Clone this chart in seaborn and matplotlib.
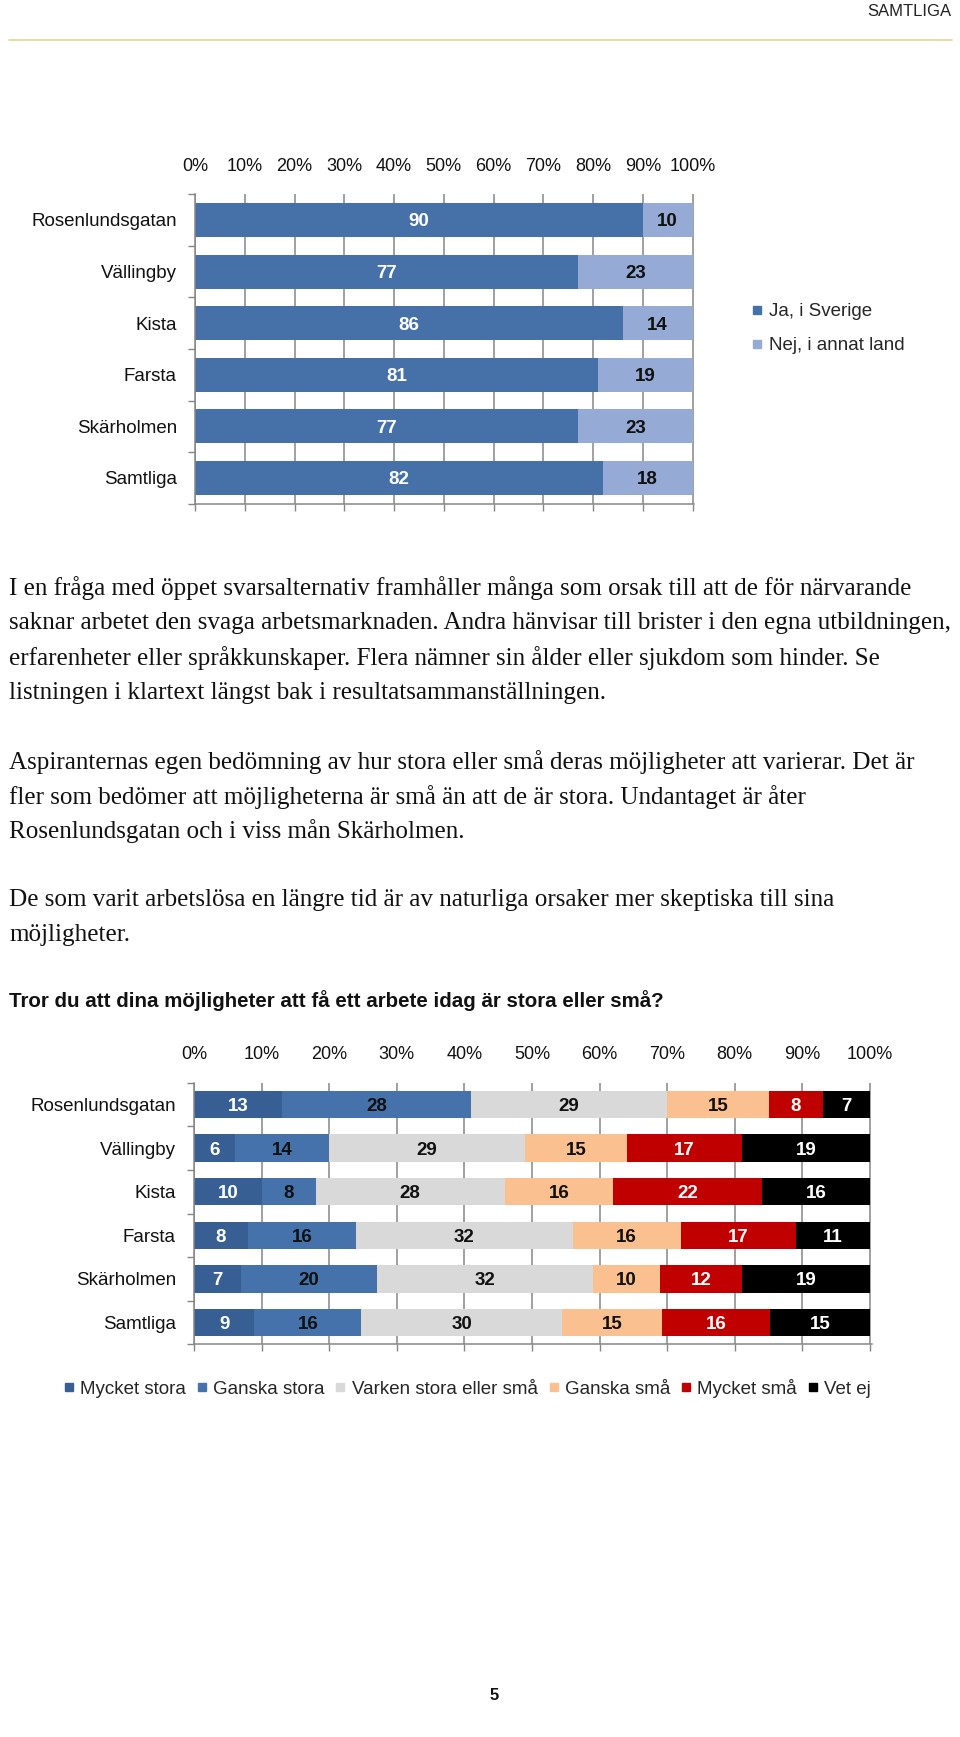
import matplotlib
matplotlib.use("Agg")
import matplotlib.pyplot as plt
import seaborn as sns
import numpy as np
import pandas as pd
from matplotlib.lines import Line2D

# ---------------- data ----------------
cats1 = ["Rosenlundsgatan", "Vällingby", "Kista", "Farsta", "Skärholmen", "Samtliga"]
ja_i_sverige = [90, 77, 86, 81, 77, 82]
nej_annat_land = [10, 23, 14, 19, 23, 18]
legend1 = ["Ja, i Sverige", "Nej, i annat land"]

cats2 = ["Rosenlundsgatan", "Vällingby", "Kista", "Farsta", "Skärholmen", "Samtliga"]
mycket_stora = [13, 6, 10, 8, 7, 9]
ganska_stora = [28, 14, 8, 16, 20, 16]
varken = [29, 29, 28, 32, 32, 30]
ganska_sma = [15, 15, 16, 16, 10, 15]
mycket_sma = [8, 17, 22, 17, 12, 16]
vet_ej = [7, 19, 16, 11, 19, 15]
legend2 = ["Mycket stora", "Ganska stora", "Varken stora eller små",
           "Ganska små", "Mycket små", "Vet ej"]

xticks = list(range(0, 101, 10))
xticklabels = [f"{t}%" for t in xticks]

para_lines = [
    "I en fråga med öppet svarsalternativ framhåller många som orsak till att de för närvarande",
    "saknar arbetet den svaga arbetsmarknaden. Andra hänvisar till brister i den egna utbildningen,",
    "erfarenheter eller språkkunskaper. Flera nämner sin ålder eller sjukdom som hinder. Se",
    "listningen i klartext längst bak i resultatsammanställningen.",
    "Aspiranternas egen bedömning av hur stora eller små deras möjligheter att varierar. Det är",
    "fler som bedömer att möjligheterna är små än att de är stora. Undantaget är åter",
    "Rosenlundsgatan och i viss mån Skärholmen.",
    "De som varit arbetslösa en längre tid är av naturliga orsaker mer skeptiska till sina",
    "möjligheter.",
]
heading = "Tror du att dina möjligheter att få ett arbete idag är stora eller små?"

# ---------------- style ----------------
sns.set_style("white")
plt.rcParams["font.family"] = ["Liberation Sans", "DejaVu Sans"]

W, H = 960, 1737
fig = plt.figure(figsize=(W / 100, H / 100), dpi=100)


def fx(px):
    return px / W


def fy(py):
    return 1 - py / H


GRID = "#868686"


def stacked(ax, cats, series, colors, label_colors, width):
    data = np.array(series, dtype=float)
    shares = data / data.sum(axis=0) * 100
    cum = np.cumsum(shares, axis=0)
    for i in range(len(series) - 1, -1, -1):
        df = pd.DataFrame({"cat": cats, "v": cum[i]})
        sns.barplot(data=df, x="v", y="cat", color=colors[i], width=width,
                    errorbar=None, orient="h", ax=ax, saturation=1, linewidth=0)
    for i, vals in enumerate(series):
        left = cum[i] - shares[i]
        for j, v in enumerate(vals):
            ax.text(left[j] + shares[i][j] / 2, j, str(v), ha="center",
                    va="center_baseline", color=label_colors[i], fontsize=13.5,
                    fontweight="bold")
    n = len(cats)
    ax.set_xlim(0, 100.3)
    ax.set_ylim(n - 0.5, -0.5)
    ax.set_xlabel("")
    ax.set_ylabel("")
    ax.set_xticks(xticks)
    ax.set_xticklabels(xticklabels)
    ax.tick_params(axis="x", which="major", bottom=True, top=False, labelbottom=False,
                   labeltop=True, length=5, width=1, color=GRID, pad=9,
                   labelsize=13, labelcolor="#111111", direction="out")
    ax.set_yticks(range(n))
    ax.set_yticklabels(cats)
    ax.set_yticks(np.arange(-0.5, n, 1.0), minor=True)
    ax.tick_params(axis="y", which="major", length=0, pad=13, labelsize=13.5,
                   labelcolor="#111111")
    ax.tick_params(axis="y", which="minor", left=True, length=5, width=1, color=GRID,
                   direction="out")
    ax.grid(axis="x", color=GRID, lw=1.1)
    ax.grid(axis="y", visible=False)
    ax.set_axisbelow(True)
    for s in ["top", "right"]:
        ax.spines[s].set_visible(False)
    for s in ["left", "bottom"]:
        ax.spines[s].set_color(GRID)
        ax.spines[s].set_linewidth(1.1)


# ---------------- header ----------------
fig.text(fx(951), fy(12), "SAMTLIGA", ha="right", va="center", fontsize=12, color="#222222")
fig.add_artist(Line2D([fx(9), fx(952)], [fy(40), fy(40)], color="#E8D79A", lw=1.3,
                      transform=fig.transFigure))

# ---------------- chart 1 ----------------
ax1 = fig.add_axes([fx(195), fy(503.8), (694 - 195) / W, (503.8 - 194.2) / H])
c1 = ["#4571A8", "#95AAD4"]
stacked(ax1, cats1, [ja_i_sverige, nej_annat_land], c1, ["white", "#111111"], 0.66)
h1 = [Line2D([], [], marker="s", ls="", color=c, markersize=6) for c in c1]
fig.legend(h1, legend1, loc="upper left", bbox_to_anchor=(fx(751), fy(303)),
           frameon=False, fontsize=13.5, handlelength=0.6, handletextpad=0.35,
           labelspacing=0.92, borderpad=0, borderaxespad=0)

# ---------------- text ----------------
renderer = fig.canvas.get_renderer()


def fit_size(text, target, **kw):
    t = fig.text(0, 0, text, fontsize=20, **kw)
    w = t.get_window_extent(renderer).width
    t.remove()
    return 20 * target / w


serif_size = fit_size(para_lines[1], 945, family="Liberation Serif")
para_y = [588, 623, 658, 693, 762, 797, 831, 900, 935]
for line, y in zip(para_lines, para_y):
    fig.text(fx(9), fy(y), line, ha="left", va="center", fontsize=serif_size,
             family="Liberation Serif", color="#111111")

head_size = fit_size(heading, 653, family="Liberation Sans", weight="bold")
fig.text(fx(9), fy(1001), heading, ha="left", va="center", fontsize=head_size,
         family="Liberation Sans", weight="bold", color="#111111")

# ---------------- chart 2 ----------------
ax2 = fig.add_axes([fx(194), fy(1344.3), (872 - 194) / W, (1344.3 - 1082.7) / H])
c2 = ["#375F93", "#4572AA", "#D9D9D9", "#FAC090", "#C00000", "#000000"]
lc2 = ["white", "#111111", "#111111", "#111111", "white", "white"]
stacked(ax2, cats2, [mycket_stora, ganska_stora, varken, ganska_sma, mycket_sma, vet_ej],
        c2, lc2, 0.63)
h2 = [Line2D([], [], marker="s", ls="", color=c, markersize=6) for c in c2]
fig.legend(h2, legend2, loc="center", bbox_to_anchor=(fx(467), fy(1388)), ncol=6,
           frameon=False, fontsize=13.5, handlelength=0.6, handletextpad=0.3,
           columnspacing=0.55, borderpad=0, borderaxespad=0)

# ---------------- page number ----------------
fig.text(fx(494), fy(1696), "5", ha="center", va="center", fontsize=12,
         fontweight="bold", color="#111111")

fig.savefig("out.png", dpi=100)
